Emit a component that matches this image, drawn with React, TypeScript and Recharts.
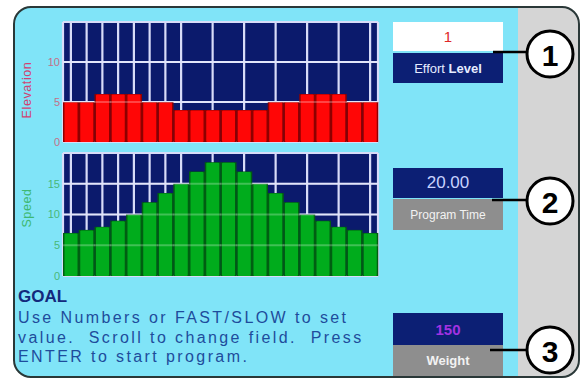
import React from 'react';
import { BarChart, Bar, XAxis, YAxis, CartesianGrid, ReferenceLine } from 'recharts';

const segments = ['1','2','3','4','5','6','7','8','9','10','11','12','13','14','15','16','17','18','19','20'];
const elevation = [5, 5, 6, 6, 6, 5, 5, 4, 4, 4, 4, 4, 4, 5, 5, 6, 6, 6, 5, 5];
const speed = [7, 7.5, 8, 9, 10, 12, 13.5, 15, 17, 18.5, 18.5, 17, 15, 13.5, 12, 10, 9, 8, 7.5, 7];
const elevationTicks = [0, 5, 10];
const speedTicks = [0, 5, 10, 15];

const effortLevel = '1';
const programTime = '20.00';
const weight = '150';

const elevData = segments.map((s, i) => ({ seg: s, value: elevation[i] }));
const speedData = segments.map((s, i) => ({ seg: s, value: speed[i] }));

const FONT = '"Liberation Sans", Arial, sans-serif';
const NAVY = '#0B1A6C';

const makeShape = (fill: string, dark: string) => (props: any) => {
  const { x, y, width, height } = props;
  if (!height || height <= 0) return <g />;
  return (
    <g>
      <rect x={x} y={y} width={width} height={height} fill={dark} />
      <rect x={x + 1.5} y={y + 0.5} width={width - 3} height={height - 0.5} fill={fill} rx={1} />
    </g>
  );
};

const redShape = makeShape('#FF0606', '#8E0000');
const greenShape = makeShape('#00AC1C', '#005E12');

const boxBase: React.CSSProperties = {
  position: 'absolute',
  left: 393,
  width: 110,
  display: 'flex',
  alignItems: 'center',
  justifyContent: 'center',
  fontFamily: FONT,
};

export default function App() {
  return (
    <div style={{ position: 'fixed', left: 0, top: 0, width: 583, height: 378, background: '#FFFFFF', overflow: 'hidden', fontFamily: FONT }}>
      <div
        style={{
          position: 'absolute', left: 13, top: 6, width: 567, height: 372, boxSizing: 'border-box',
          border: '2px solid #2A3838', borderRadius: 18,
          background: 'linear-gradient(to right, #80E4F8 0px, #80E4F8 503px, #D5D5D5 503px, #D5D5D5 100%)',
        }}
      />
      <div style={{ position: 'absolute', left: 0, top: 0 }}>
        <BarChart width={380} height={150} data={elevData} margin={{ top: 22, right: 2, bottom: 8, left: 0 }} barCategoryGap={0}>
          <CartesianGrid fill={NAVY} stroke="#D8DCF8" strokeWidth={2.2} />
          <XAxis dataKey="seg" hide />
          <YAxis
            width={63}
            domain={[0, 15]}
            ticks={elevationTicks}
            interval={0}
            axisLine={false}
            tickLine={false}
            tickSize={0}
            tickMargin={3}
            tick={{ fill: '#C47088', fontSize: 11, fontFamily: FONT }}
          />
          <Bar dataKey="value" isAnimationActive={false} shape={redShape} />
          <ReferenceLine y={5} stroke="rgba(255,255,255,0.25)" strokeWidth={2} />
          <ReferenceLine y={10} stroke="rgba(255,255,255,0.25)" strokeWidth={2} />
        </BarChart>
      </div>
      <div style={{ position: 'absolute', left: 0, top: 145 }}>
        <BarChart width={380} height={139} data={speedData} margin={{ top: 8, right: 2, bottom: 8, left: 0 }} barCategoryGap={0}>
          <CartesianGrid fill={NAVY} stroke="#D8DCF8" strokeWidth={2.2} />
          <XAxis dataKey="seg" hide />
          <YAxis
            width={63}
            domain={[0, 20]}
            ticks={speedTicks}
            interval={0}
            axisLine={false}
            tickLine={false}
            tickSize={0}
            tickMargin={3}
            tick={{ fill: '#48B878', fontSize: 11, fontFamily: FONT }}
          />
          <Bar dataKey="value" isAnimationActive={false} shape={greenShape} />
          <ReferenceLine y={5} stroke="rgba(255,255,255,0.25)" strokeWidth={2} />
          <ReferenceLine y={10} stroke="rgba(255,255,255,0.25)" strokeWidth={2} />
          <ReferenceLine y={15} stroke="rgba(255,255,255,0.25)" strokeWidth={2} />
        </BarChart>
      </div>

      <div style={{ ...boxBase, top: 22, height: 29, background: '#FFFFFF', color: '#E02828', fontSize: 15 }}>{effortLevel}</div>
      <div style={{ ...boxBase, top: 53, height: 30, background: '#0C1F74', color: '#E6ECFF', fontSize: 13 }}>
        <span>Effort&nbsp;</span><span style={{ fontWeight: 'bold' }}>Level</span>
      </div>

      <div style={{ ...boxBase, top: 168, height: 30, background: '#0C1F74', color: '#C8D2FF', fontSize: 17 }}>{programTime}</div>
      <div style={{ ...boxBase, top: 199, height: 31, background: '#8E8E8E', color: '#F2F2F2', fontSize: 12 }}>Program Time</div>

      <div style={{ ...boxBase, top: 313, height: 32, background: '#0C1F74', color: '#A232E2', fontSize: 15, fontWeight: 'bold' }}>{weight}</div>
      <div style={{ ...boxBase, top: 345, height: 31, background: '#8E8E8E', color: '#F2F2F2', fontSize: 13, fontWeight: 'bold' }}>Weight</div>

      <div style={{ position: 'absolute', left: 18, top: 287, fontFamily: FONT, color: '#13297C', fontSize: 17, fontWeight: 'bold', lineHeight: '20px' }}>GOAL</div>
      <div style={{ position: 'absolute', left: 18, top: 308, fontFamily: FONT, color: '#1E4C9C', fontSize: 16, letterSpacing: 2.4, lineHeight: '19.5px', whiteSpace: 'pre' }}>
        {'Use Numbers or FAST/SLOW to set\nvalue.  Scroll to change field.  Press\nENTER to start program.'}
      </div>

      <svg width={583} height={378} style={{ position: 'absolute', left: 0, top: 0, pointerEvents: 'none' }}>
        <text x={27} y={90} transform="rotate(-90 27 90)" textAnchor="middle" dominantBaseline="central" fontSize={12.5} letterSpacing={0.6} fill="#D24272" fontFamily={FONT}>Elevation</text>
        <text x={27} y={208} transform="rotate(-90 27 208)" textAnchor="middle" dominantBaseline="central" fontSize={12.5} letterSpacing={0.6} fill="#3EB872" fontFamily={FONT}>Speed</text>

        <line x1={493} y1={52} x2={527} y2={52} stroke="#000" strokeWidth={2.5} />
        <circle cx={550} cy={54} r={23} fill="#FFFFFF" stroke="#000" strokeWidth={3} />
        <text x={550} y={55} textAnchor="middle" dominantBaseline="central" fontSize={30} fontWeight="bold" fontFamily={FONT} fill="#000">1</text>

        <line x1={492} y1={200} x2={527} y2={200} stroke="#000" strokeWidth={2.5} />
        <circle cx={550} cy={201} r={23} fill="#FFFFFF" stroke="#000" strokeWidth={3} />
        <text x={550} y={202} textAnchor="middle" dominantBaseline="central" fontSize={30} fontWeight="bold" fontFamily={FONT} fill="#000">2</text>

        <line x1={490} y1={350} x2={527} y2={350} stroke="#000" strokeWidth={2.5} />
        <circle cx={550} cy={350} r={23} fill="#FFFFFF" stroke="#000" strokeWidth={3} />
        <text x={550} y={351} textAnchor="middle" dominantBaseline="central" fontSize={30} fontWeight="bold" fontFamily={FONT} fill="#000">3</text>
      </svg>
    </div>
  );
}
